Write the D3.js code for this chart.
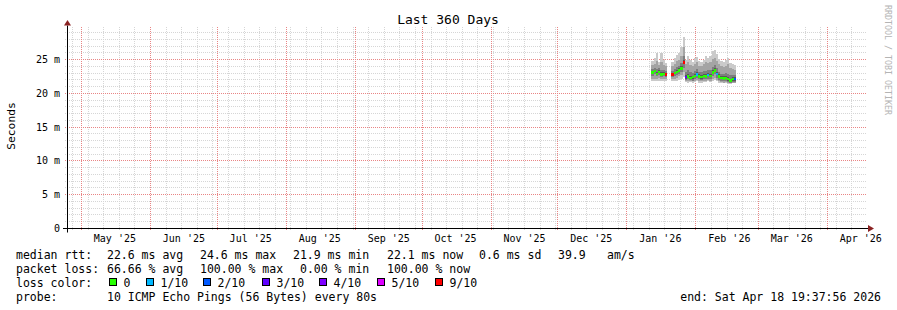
<!DOCTYPE html>
<html>
<head>
<meta charset="utf-8">
<script src="https://cdn.jsdelivr.net/npm/d3@7"></script>
<style>
  body { margin: 0; background: #fff; }
  svg { display: block; font-family: "DejaVu Sans Mono", monospace; }
</style>
</head>
<body>
<div id="chart"></div>
<script>
// ---- texts ----
var titleText = "Last 360 Days";
var yAxisTitle = "Seconds";
var watermark = "RRDTOOL / TOBI OETIKER";
var endText = "end: Sat Apr 18 19:37:56 2026";

// y axis ticks (ms) and their labels
var yTicks = [0, 5, 10, 15, 20, 25];
var yTickLabels = ["0", "5 m", "10 m", "15 m", "20 m", "25 m"];

// ---- data: one value per day, null = no answer ----
var dates = ["2026-01-12","2026-01-13","2026-01-14","2026-01-15","2026-01-16","2026-01-17","2026-01-18",
             "2026-01-19","2026-01-20","2026-01-21","2026-01-22","2026-01-23","2026-01-24","2026-01-25",
             "2026-01-26","2026-01-27","2026-01-28","2026-01-29","2026-01-30","2026-01-31","2026-02-01",
             "2026-02-02","2026-02-03","2026-02-04","2026-02-05","2026-02-06","2026-02-07","2026-02-08",
             "2026-02-09","2026-02-10","2026-02-11","2026-02-12","2026-02-13","2026-02-14","2026-02-15",
             "2026-02-16","2026-02-17","2026-02-18"];

// median rtt (ms)
var median = [23.1,23.3,22.9,23.2,22.8,22.9,22.8, null,null,
              22.8,23.0,23.2,23.4,23.7,24.6,
              22.4,22.5,22.3,22.4,22.6,22.8,22.5,22.4,22.6,22.5,22.7,22.6,23.1,23.4,22.9,22.5,22.3,22.2,22.3,22.1,21.9,22.1,22.1];

// lost pings out of 10
var loss = [0,0,0,0,0,0,9, null,null,
            9,0,0,0,0,9,
            3,0,0,0,0,1,0,0,0,0,1,0,0,0,1,0,0,0,0,0,0,0,2];

// sorted pings (smoke): ping1/ping10, ping2/ping9, ping3/ping8, ping4/ping7
var ping1 = [21.9,21.8,21.8,21.9,21.8,21.9,21.8, null,null,
             21.8,21.9,21.9,22.0,22.1,22.4,
             21.7,21.6,21.7,21.6,21.7,21.8,21.6,21.6,21.7,21.7,21.8,21.7,21.9,22.0,21.8,21.6,21.5,21.5,21.6,21.4,21.4,21.5,21.5];
var ping2 = [22.2,22.2,22.1,22.3,22.1,22.2,22.1, null,null,
             22.1,22.2,22.3,22.5,22.7,23.2,
             21.9,21.8,21.8,21.8,21.9,22.0,21.8,21.8,21.9,21.9,22.0,21.9,22.1,22.3,22.0,21.8,21.7,21.6,21.7,21.6,21.5,21.6,21.6];
var ping3 = [22.6,22.8,22.5,22.7,22.4,22.5,22.4, null,null,
             22.4,22.6,22.7,22.9,23.1,23.8,
             22.0,22.1,22.0,21.9,22.2,22.3,22.1,22.0,22.1,22.1,22.2,22.1,22.5,22.8,22.3,22.0,21.9,21.8,21.9,21.7,21.6,21.7,21.7];
var ping4 = [22.9,23.1,22.7,23.0,22.6,22.7,22.6, null,null,
             22.6,22.8,23.0,23.2,23.5,24.3,
             22.2,22.3,22.1,22.2,22.4,22.6,22.3,22.2,22.4,22.3,22.5,22.4,22.9,23.2,22.7,22.3,22.1,22.0,22.1,21.9,21.7,21.9,21.9];
var ping7 = [23.3,23.5,23.2,23.4,23.1,23.1,23.0, null,null,
             23.0,23.2,23.5,23.7,24.0,25.0,
             22.7,22.8,22.6,22.6,22.8,23.1,22.8,22.7,22.9,22.8,23.0,22.9,23.4,23.7,23.2,22.8,22.6,22.5,22.6,22.4,22.2,22.4,22.4];
var ping8 = [23.6,23.8,23.6,23.7,23.5,23.4,23.3, null,null,
             23.3,23.6,23.9,24.1,24.5,25.6,
             23.2,23.4,23.1,23.0,23.3,23.6,23.2,23.1,23.3,23.3,23.5,23.4,23.9,24.2,23.7,23.2,22.9,22.8,23.0,22.9,22.7,22.7,22.7];
var ping9 = [24.2,24.4,24.8,24.2,24.6,24.2,24.0, null,null,
             24.0,24.4,24.8,25.0,25.6,26.8,
             24.3,24.7,24.2,24.0,24.4,24.6,24.1,24.0,24.3,24.6,24.5,24.6,25.1,25.3,24.8,24.3,24.0,23.9,24.1,24.3,23.8,23.6,23.5];
var ping10 = [24.8,25.2,26.0,24.7,26.0,24.9,24.5, null,null,
              24.6,25.2,25.7,26.0,26.9,28.4,
              25.0,25.6,24.9,24.6,25.2,25.4,24.8,24.7,25.0,25.5,25.3,25.6,26.2,26.4,25.8,25.1,24.8,24.6,24.9,25.3,24.5,24.3,24.2];

// loss colour legend
var lossLevels = [0, 1, 2, 3, 4, 5, 9];
var lossLabels = ["0", "1/10", "2/10", "3/10", "4/10", "5/10", "9/10"];
var lossColors = ["#26ff00", "#00b8ff", "#0059ff", "#5e00ff", "#7e00ff", "#dd00ff", "#ff0000"];

// legend statistics
var rttStats = ["22.6 ms avg", "24.6 ms max", "21.9 ms min", "22.1 ms now", "0.6 ms sd", "39.9", "am/s"];
var lossStats = ["66.66 % avg", "100.00 % max", "0.00 % min", "100.00 % now"];
var probeText = "10 ICMP Echo Pings (56 Bytes) every 80s";

function init() {
    var W = 897, H = 310;
    var left = 67, right = 867, bottom = 228.5, top = 27.5;

    var svg = d3.select("#chart").append("svg")
        .attr("width", W).attr("height", H);

    svg.append("rect").attr("width", W).attr("height", H).attr("fill", "#fff");

    var end = new Date(Date.UTC(2026, 3, 18, 19, 37, 56));
    var start = new Date(end.getTime() - 360 * 86400000);

    var x = d3.scaleUtc().domain([start, end]).range([65.5, right]);
    var y = d3.scaleLinear().domain([0, 29.75]).range([bottom, top]);

    var parse = d3.utcParse("%Y-%m-%d");
    var rows = dates.map(function(d, i) {
        return {
            t: parse(d), med: median[i], loss: loss[i],
            p1: ping1[i], p2: ping2[i], p3: ping3[i], p4: ping4[i],
            p7: ping7[i], p8: ping8[i], p9: ping9[i], p10: ping10[i]
        };
    }).filter(function(r) { return r.med !== null; });

    var crisp = function(v) { return Math.floor(v) + 0.5; };
    var minorColor = "#d6d6d6", majorColor = "#e98585";

    // ---- grid ----
    var grid = svg.append("g").attr("shape-rendering", "crispEdges");
    var minorY = d3.range(1, 30).filter(function(v) { return v % 5 !== 0; });
    grid.selectAll(".hminor").data(minorY).enter().append("line")
        .attr("x1", left - 2).attr("x2", right)
        .attr("y1", function(d) { return crisp(y(d)); })
        .attr("y2", function(d) { return crisp(y(d)); })
        .attr("stroke", minorColor).attr("stroke-dasharray", "1,1");

    var weeks = d3.utcSunday.range(start, end).filter(function(d) { return x(d) > left + 1; });
    grid.selectAll(".vminor").data(weeks).enter().append("line")
        .attr("x1", function(d) { return crisp(x(d)); })
        .attr("x2", function(d) { return crisp(x(d)); })
        .attr("y1", top - 0.5).attr("y2", bottom + 2)
        .attr("stroke", minorColor).attr("stroke-dasharray", "1,1");

    grid.selectAll(".hmajor").data(yTicks.slice(1)).enter().append("line")
        .attr("x1", left - 2).attr("x2", right)
        .attr("y1", function(d) { return crisp(y(d)); })
        .attr("y2", function(d) { return crisp(y(d)); })
        .attr("stroke", majorColor).attr("stroke-dasharray", "1,1");

    var months = d3.utcMonth.range(start, end);
    grid.selectAll(".vmajor").data(months).enter().append("line")
        .attr("x1", function(d) { return crisp(x(d)); })
        .attr("x2", function(d) { return crisp(x(d)); })
        .attr("y1", top - 0.5).attr("y2", bottom + 2)
        .attr("stroke", majorColor).attr("stroke-dasharray", "1,1");

    // ---- smoke ----
    var layers = [
        { lo: "p1", hi: "p10", color: "#cacaca" },
        { lo: "p2", hi: "p9", color: "#a4a4a4" },
        { lo: "p3", hi: "p8", color: "#7e7e7e" },
        { lo: "p4", hi: "p7", color: "#585858" }
    ];
    var dayWidth = function(d) { return x(d3.utcDay.offset(d.t, 1)) - x(d.t); };

    layers.forEach(function(L) {
        svg.append("g").selectAll("rect").data(rows).enter().append("rect")
            .attr("x", function(d) { return x(d.t); })
            .attr("width", dayWidth)
            .attr("y", function(d) { return y(d[L.hi]); })
            .attr("height", function(d) { return y(d[L.lo]) - y(d[L.hi]); })
            .attr("fill", L.color)
            .attr("shape-rendering", "crispEdges");
    });

    // ---- median coloured by loss ----
    var lossColor = function(l) {
        var c = lossColors[0];
        lossLevels.forEach(function(v, i) { if (l >= v) c = lossColors[i]; });
        return c;
    };
    svg.append("g").selectAll("rect").data(rows).enter().append("rect")
        .attr("x", function(d) { return x(d.t); })
        .attr("width", dayWidth)
        .attr("y", function(d) { return y(d.med) - 1.25; })
        .attr("height", 2.5)
        .attr("fill", function(d) { return lossColor(d.loss); })
        .attr("shape-rendering", "crispEdges");

    // ---- axes ----
    svg.append("line").attr("x1", left - 4).attr("x2", right + 1)
        .attr("y1", bottom).attr("y2", bottom).attr("stroke", "#000");
    svg.append("line").attr("x1", left + 0.5).attr("x2", left + 0.5)
        .attr("y1", bottom + 4).attr("y2", top - 2).attr("stroke", "#000");
    svg.append("path").attr("d", "M64,25.5 L67.5,20 L71,25.5 Z").attr("fill", "#8b2323");
    svg.append("path").attr("d", "M868,225 L874,228.5 L868,232 Z").attr("fill", "#8b2323");

    // y tick labels
    svg.selectAll(".ylab").data(yTicks).enter().append("text")
        .attr("x", 60).attr("y", function(d) { return y(d) + 3.5; })
        .attr("text-anchor", "end").attr("font-size", "10px").attr("fill", "#000")
        .text(function(d, i) { return yTickLabels[i]; });

    // x tick labels, centred mid-month
    var fmt = d3.utcFormat("%b '%y");
    svg.selectAll(".xlab").data(months).enter().append("text")
        .attr("x", function(d) { return x(d3.utcDay.offset(d, 15)); })
        .attr("y", 241.5)
        .attr("text-anchor", "middle").attr("font-size", "10px").attr("fill", "#000")
        .text(function(d) { return fmt(d); });

    // titles
    svg.append("text").attr("x", 448).attr("y", 23.5).attr("text-anchor", "middle")
        .attr("font-size", "13px").attr("fill", "#000").text(titleText);
    svg.append("text").attr("transform", "translate(15,126) rotate(-90)")
        .attr("text-anchor", "middle").attr("font-size", "11.3px").attr("fill", "#000")
        .text(yAxisTitle);
    svg.append("text").attr("transform", "translate(884.5,5) rotate(90)")
        .attr("font-size", "8.3px").attr("fill", "#b4b4b4").text(watermark);

    // ---- legend ----
    var leg = svg.append("g").attr("font-size", "11.5px").attr("fill", "#000")
        .style("white-space", "pre");
    var rttX = [107, 200, 293, 387, 479, 558, 607];
    var lossX = [107, 200, 300, 387];

    leg.append("text").attr("x", 16).attr("y", 258.5).text("median rtt:");
    leg.selectAll(".rtt").data(rttStats).enter().append("text")
        .attr("x", function(d, i) { return rttX[i]; }).attr("y", 258.5).text(function(d) { return d; });

    leg.append("text").attr("x", 16).attr("y", 272.5).text("packet loss:");
    leg.selectAll(".loss").data(lossStats).enter().append("text")
        .attr("x", function(d, i) { return lossX[i]; }).attr("y", 272.5).text(function(d) { return d; });

    leg.append("text").attr("x", 16).attr("y", 286.5).text("loss color:");
    var boxX = [109, 146, 203, 262, 319, 377, 435];
    var item = leg.selectAll(".lc").data(lossLabels).enter().append("g");
    item.append("rect")
        .attr("x", function(d, i) { return boxX[i] + 0.5; }).attr("y", 278.5)
        .attr("width", 7).attr("height", 7)
        .attr("fill", function(d, i) { return lossColors[i]; })
        .attr("stroke", "#000");
    item.append("text")
        .attr("x", function(d, i) { return boxX[i] + 14.5; }).attr("y", 286.5)
        .text(function(d) { return d; });

    leg.append("text").attr("x", 16).attr("y", 300.5).text("probe:");
    leg.append("text").attr("x", 107).attr("y", 300.5).text(probeText);
    leg.append("text").attr("x", 881).attr("y", 300.5).attr("text-anchor", "end").text(endText);
}

window.onload = init;
</script>
</body>
</html>
